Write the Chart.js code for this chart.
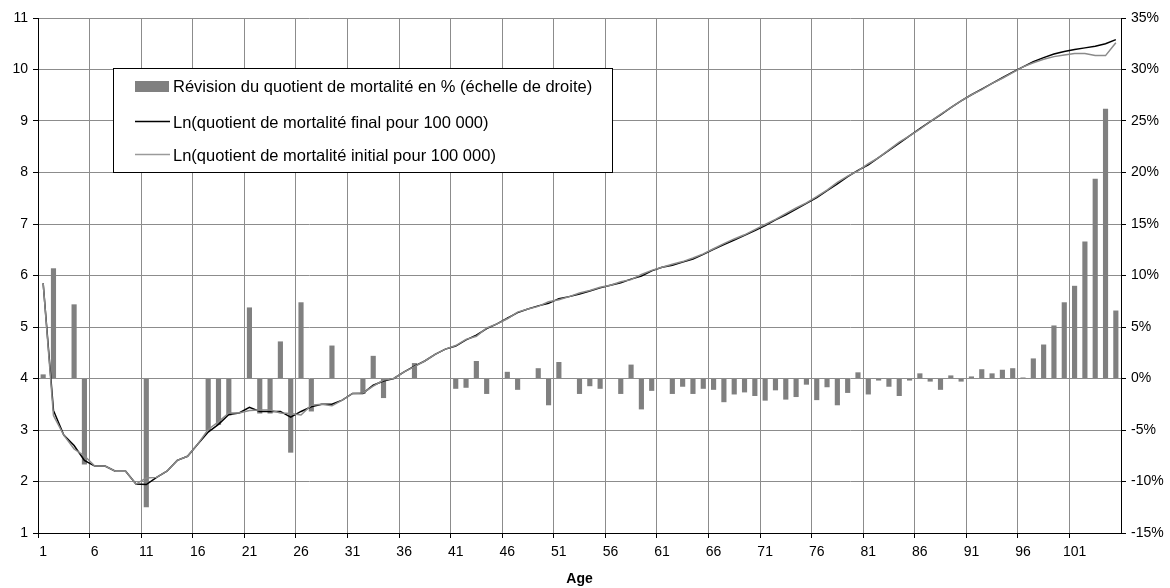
<!DOCTYPE html>
<html>
<head>
<meta charset="utf-8">
<script src="https://cdn.jsdelivr.net/npm/chart.js@4.4.1/dist/chart.umd.min.js"></script>
<style>
  html, body { margin: 0; padding: 0; background: #fff; }
  #wrap { width: 1170px; height: 588px; }
</style>
</head>
<body>
<div id="wrap"><canvas id="myChart" width="1170" height="588"></canvas></div>
<script>
// Ages (axe des catégories)
const ages = ['1','2','3','4','5','6','7','8','9','10','11','12','13','14','15','16','17','18','19','20',
  '21','22','23','24','25','26','27','28','29','30','31','32','33','34','35','36','37','38','39','40',
  '41','42','43','44','45','46','47','48','49','50','51','52','53','54','55','56','57','58','59','60',
  '61','62','63','64','65','66','67','68','69','70','71','72','73','74','75','76','77','78','79','80',
  '81','82','83','84','85','86','87','88','89','90','91','92','93','94','95','96','97','98','99','100',
  '101','102','103','104','105'];

// Révision du quotient de mortalité en % (échelle de droite)
const revision = [0.4, 10.7, 0, 7.2, -8.35, 0, 0, 0, 0, 0,
  -12.5, 0, 0, 0, 0, 0, -5.0, -4.5, -3.6, 0,
  6.9, -3.4, -3.4, 3.6, -7.2, 7.4, -3.2, 0, 3.2, 0,
  0, -1.5, 2.2, -1.9, 0, 0, 1.5, 0, 0, 0,
  -1.0, -0.9, 1.7, -1.5, 0, 0.65, -1.1, 0, 1.0, -2.6,
  1.6, 0, -1.5, -0.75, -1.0, 0, -1.5, 1.35, -3.0, -1.2,
  0, -1.5, -0.8, -1.5, -1.0, -1.1, -2.3, -1.55, -1.35, -1.7,
  -2.15, -1.15, -2.05, -1.8, -0.6, -2.1, -0.85, -2.6, -1.4, 0.6,
  -1.55, -0.2, -0.8, -1.7, -0.2, 0.5, -0.3, -1.1, 0.3, -0.3,
  0.2, 0.9, 0.5, 0.85, 1.0, 0.1, 1.95, 3.3, 5.15, 7.4,
  9.0, 13.3, 19.4, 26.2, 6.6];

// Ln(quotient de mortalité final pour 100 000)
const lnFinal = [5.85, 3.38, 2.90, 2.70, 2.41, 2.30, 2.30, 2.20, 2.20, 1.95,
  1.94, 2.08, 2.20, 2.41, 2.49, 2.73, 2.96, 3.11, 3.30, 3.33,
  3.44, 3.36, 3.36, 3.36, 3.25, 3.36, 3.45, 3.50, 3.50, 3.58,
  3.71, 3.71, 3.87, 3.95, 4.00, 4.13, 4.24, 4.34, 4.47, 4.57,
  4.63, 4.75, 4.84, 4.97, 5.06, 5.17, 5.28, 5.35, 5.41, 5.46,
  5.55, 5.59, 5.64, 5.70, 5.76, 5.81, 5.86, 5.93, 5.99, 6.09,
  6.16, 6.20, 6.26, 6.32, 6.41, 6.51, 6.60, 6.69, 6.78, 6.87,
  6.97, 7.08, 7.18, 7.29, 7.40, 7.51, 7.65, 7.78, 7.92, 8.04,
  8.15, 8.29, 8.43, 8.57, 8.71, 8.85, 8.99, 9.12, 9.26, 9.39,
  9.51, 9.62, 9.73, 9.84, 9.95, 10.05, 10.15, 10.23, 10.30, 10.35,
  10.39, 10.42, 10.45, 10.50, 10.58];

// Ln(quotient de mortalité initial pour 100 000)
const lnInitial = [5.85, 3.28, 2.90, 2.63, 2.50, 2.30, 2.30, 2.20, 2.20, 1.95,
  2.07, 2.08, 2.20, 2.41, 2.49, 2.73, 3.01, 3.16, 3.33, 3.33,
  3.38, 3.39, 3.39, 3.33, 3.32, 3.29, 3.48, 3.50, 3.47, 3.58,
  3.71, 3.72, 3.85, 3.97, 4.00, 4.13, 4.23, 4.34, 4.47, 4.57,
  4.64, 4.76, 4.82, 4.98, 5.06, 5.16, 5.29, 5.35, 5.40, 5.49,
  5.53, 5.59, 5.66, 5.71, 5.77, 5.81, 5.88, 5.92, 6.02, 6.10,
  6.16, 6.22, 6.27, 6.34, 6.42, 6.52, 6.62, 6.71, 6.79, 6.89,
  6.99, 7.09, 7.20, 7.31, 7.41, 7.53, 7.66, 7.81, 7.93, 8.03,
  8.17, 8.29, 8.44, 8.59, 8.71, 8.84, 8.99, 9.13, 9.26, 9.39,
  9.51, 9.61, 9.73, 9.83, 9.94, 10.05, 10.13, 10.20, 10.25, 10.28,
  10.31, 10.31, 10.27, 10.27, 10.52];

const gridColor = '#8c8c8c';
const fontFamily = '"Liberation Sans", Arial, sans-serif';

Chart.defaults.font.family = fontFamily;
Chart.defaults.font.size = 14;
Chart.defaults.color = '#000';

// Légende encadrée dessinée dans la zone du graphique (comme dans Excel)
const legendBox = {
  id: 'legendBox',
  afterDraw(chart) {
    const c = chart.ctx;
    const ds = chart.data.datasets;
    c.save();
    c.fillStyle = '#fff';
    c.fillRect(113, 68, 499, 104);
    c.strokeStyle = '#000';
    c.lineWidth = 1;
    c.strokeRect(113.5, 68.5, 499, 104);

    c.font = '16.5px ' + fontFamily;
    c.textBaseline = 'alphabetic';

    // barres
    c.fillStyle = ds[2].backgroundColor;
    c.fillRect(135, 81, 34, 11);
    c.fillStyle = '#000';
    c.fillText(ds[2].label, 173, 92);

    // ligne finale
    c.strokeStyle = ds[1].borderColor;
    c.lineWidth = 1.5;
    c.beginPath(); c.moveTo(135, 121.5); c.lineTo(170, 121.5); c.stroke();
    c.fillText(ds[1].label, 173, 127.5);

    // ligne initiale
    c.strokeStyle = '#9a9a9a';
    c.beginPath(); c.moveTo(135, 154.5); c.lineTo(170, 154.5); c.stroke();
    c.fillText(ds[0].label, 173, 160.5);
    c.restore();
  }
};

const ctx = document.getElementById('myChart').getContext('2d');
new Chart(ctx, {
  type: 'bar',
  data: {
    labels: ages,
    datasets: [
      {
        type: 'line',
        label: 'Ln(quotient de mortalité initial pour 100 000)',
        data: lnInitial,
        yAxisID: 'y',
        borderColor: '#8a8a8a',
        borderWidth: 1.5,
        pointRadius: 0,
        tension: 0,
        order: 1
      },
      {
        type: 'line',
        label: 'Ln(quotient de mortalité final pour 100 000)',
        data: lnFinal,
        yAxisID: 'y',
        borderColor: '#000',
        borderWidth: 1.5,
        pointRadius: 0,
        tension: 0,
        order: 2
      },
      {
        type: 'bar',
        label: 'Révision du quotient de mortalité en % (échelle de droite)',
        data: revision,
        yAxisID: 'y1',
        backgroundColor: '#808080',
        categoryPercentage: 1,
        barPercentage: 0.5,
        order: 3
      }
    ]
  },
  options: {
    responsive: false,
    animation: false,
    layout: { padding: { top: 18, left: 0, right: 0, bottom: 0 } },
    plugins: { legend: { display: false }, tooltip: { enabled: false } },
    scales: {
      x: {
        offset: true,
        grid: {
          offset: true,
          color: c => c.index % 5 === 0 ? gridColor : 'transparent',
          tickColor: c => c.index % 5 === 0 ? '#000' : 'transparent',
          tickLength: 5
        },
        border: { color: '#000' },
        ticks: {
          autoSkip: false,
          maxRotation: 0,
          padding: 6,
          callback: function (v, i) { return i % 5 === 0 ? this.getLabelForValue(v) : ''; }
        },
        title: { display: true, text: 'Age', font: { weight: 'bold', size: 14 }, padding: { top: 0, bottom: 0 } },
        afterFit: s => { s.height = 55; }
      },
      y: {
        position: 'left',
        min: 1,
        max: 11,
        ticks: { stepSize: 1, padding: 5 },
        grid: { color: gridColor, tickColor: '#000', tickLength: 5 },
        border: { color: '#000' },
        afterFit: s => { s.width = 38; }
      },
      y1: {
        position: 'right',
        min: -15,
        max: 35,
        ticks: { stepSize: 5, padding: 5, callback: v => v + '%' },
        grid: { drawOnChartArea: false, tickColor: '#000', tickLength: 5 },
        border: { color: '#000' },
        afterFit: s => { s.width = 49; }
      }
    }
  },
  plugins: [legendBox]
});
</script>
</body>
</html>
